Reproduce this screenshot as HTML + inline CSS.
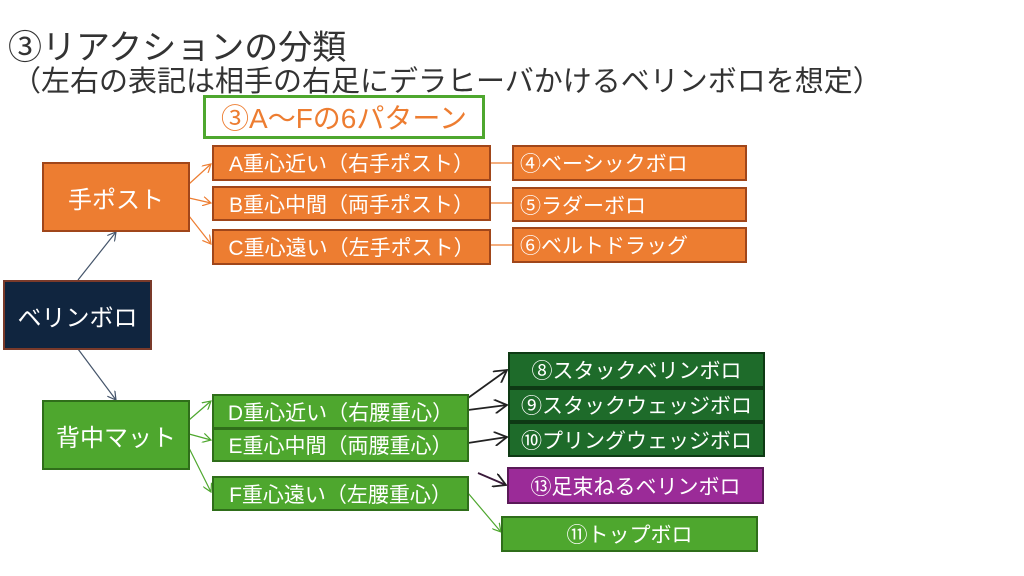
<!DOCTYPE html>
<html><head><meta charset="utf-8"><style>
body{margin:0;width:1024px;height:576px;background:#fff;position:relative;overflow:hidden;font-family:"Liberation Sans","Noto Sans CJK JP",sans-serif}
.t{position:absolute;white-space:nowrap}
.b{position:absolute;box-sizing:border-box;color:#fff;display:flex;align-items:center;justify-content:center;white-space:nowrap;font-size:21px}
.o{background:#ED7D31;border:2px solid #A0461A}
.g{background:#4EA72E;border:2px solid #2F6E1A}
.dg{background:#1E6B2A;border:2px solid #0E3A14}
</style></head><body>
<div class="t" style="left:8px;top:20px;font-size:34px;color:#333">③リアクションの分類</div>
<div class="t" style="left:12px;top:58px;font-size:29px;color:#333">（左右の表記は相手の右足にデラヒーバかけるベリンボロを想定）</div>
<div class="b" style="left:203px;top:95px;width:282px;height:44px;border:3px solid #4EA72E;background:#fff;color:#ED7D31;font-size:28px">③A〜Fの6パターン</div>
<svg style="position:absolute;left:0;top:0" width="1024" height="576">
<defs>
<marker id="an" markerWidth="8" markerHeight="8" refX="7" refY="4" orient="auto"><path d="M0,0 L7,4 L0,8" fill="none" stroke="#44546A" stroke-width="1"/></marker>
<marker id="ao" markerWidth="8" markerHeight="8" refX="7" refY="4" orient="auto"><path d="M0,0 L7,4 L0,8" fill="none" stroke="#ED7D31" stroke-width="1"/></marker>
<marker id="ag" markerWidth="8" markerHeight="8" refX="7" refY="4" orient="auto"><path d="M0,0 L7,4 L0,8" fill="none" stroke="#4EA72E" stroke-width="1"/></marker>
<marker id="ak" markerWidth="8" markerHeight="8" refX="7" refY="4" orient="auto"><path d="M0,0 L7,4 L0,8" fill="none" stroke="#222" stroke-width="1"/></marker>
</defs>
<g stroke-width="1.2" fill="none">
<line x1="78" y1="280" x2="116" y2="232" stroke="#44546A" marker-end="url(#an)"/>
<line x1="78" y1="349" x2="116" y2="400" stroke="#44546A" marker-end="url(#an)"/>
<line x1="189" y1="184" x2="211" y2="164" stroke="#ED7D31" marker-end="url(#ao)"/>
<line x1="189" y1="198" x2="211" y2="203" stroke="#ED7D31" marker-end="url(#ao)"/>
<line x1="189" y1="216" x2="211" y2="244" stroke="#ED7D31" marker-end="url(#ao)"/>
<line x1="490" y1="163" x2="512" y2="163" stroke="#ED7D31"/>
<line x1="490" y1="203" x2="512" y2="203" stroke="#ED7D31"/>
<line x1="490" y1="245" x2="512" y2="245" stroke="#ED7D31"/>
<line x1="189" y1="420" x2="211" y2="401" stroke="#4EA72E" marker-end="url(#ag)"/>
<line x1="189" y1="434" x2="211" y2="440" stroke="#4EA72E" marker-end="url(#ag)"/>
<line x1="189" y1="448" x2="211" y2="492" stroke="#4EA72E" marker-end="url(#ag)"/>
<line x1="468" y1="493" x2="501" y2="532" stroke="#4EA72E" marker-end="url(#ag)"/>
</g>
<g stroke="#222" stroke-width="1.8" fill="none">
<line x1="468" y1="398" x2="507" y2="370" marker-end="url(#ak)"/>
<line x1="468" y1="410" x2="507" y2="405" marker-end="url(#ak)"/>
<line x1="468" y1="443" x2="507" y2="437" marker-end="url(#ak)"/>
<line x1="478" y1="473" x2="506" y2="485" stroke="#3a1a3a" marker-end="url(#ak)"/>
</g>
</svg>
<div class="b o" style="left:42px;top:162px;width:148px;height:70px;font-size:24px">手ポスト</div>
<div class="b" style="left:3px;top:280px;width:149px;height:70px;background:#10253F;border:2px solid #7a3a2a;font-size:24px">ベリンボロ</div>
<div class="b g" style="left:42px;top:400px;width:148px;height:70px;font-size:24px">背中マット</div>
<div class="b o" style="left:212px;top:145px;width:279px;height:36px">A重心近い（右手ポスト）</div>
<div class="b o" style="left:212px;top:186px;width:279px;height:35px">B重心中間（両手ポスト）</div>
<div class="b o" style="left:212px;top:229px;width:279px;height:36px">C重心遠い（左手ポスト）</div>
<div class="b o" style="left:512px;top:145px;width:235px;height:36px;justify-content:flex-start;padding-left:6px">④ベーシックボロ</div>
<div class="b o" style="left:512px;top:187px;width:235px;height:35px;justify-content:flex-start;padding-left:6px">⑤ラダーボロ</div>
<div class="b o" style="left:512px;top:227px;width:235px;height:36px;justify-content:flex-start;padding-left:6px">⑥ベルトドラッグ</div>
<div class="b g" style="left:212px;top:394px;width:257px;height:35px">D重心近い（右腰重心）</div>
<div class="b g" style="left:212px;top:428px;width:257px;height:34px">E重心中間（両腰重心）</div>
<div class="b g" style="left:212px;top:476px;width:257px;height:35px">F重心遠い（左腰重心）</div>
<div class="b dg" style="left:508px;top:352px;width:257px;height:36px">⑧スタックベリンボロ</div>
<div class="b dg" style="left:508px;top:388px;width:257px;height:34px">⑨スタックウェッジボロ</div>
<div class="b dg" style="left:508px;top:422px;width:257px;height:35px">⑩プリングウェッジボロ</div>
<div class="b" style="left:507px;top:467px;width:257px;height:37px;background:#9B2B98;border:2px solid #5a1a58">⑬足束ねるベリンボロ</div>
<div class="b g" style="left:501px;top:516px;width:257px;height:36px">⑪トップボロ</div>
</body></html>
